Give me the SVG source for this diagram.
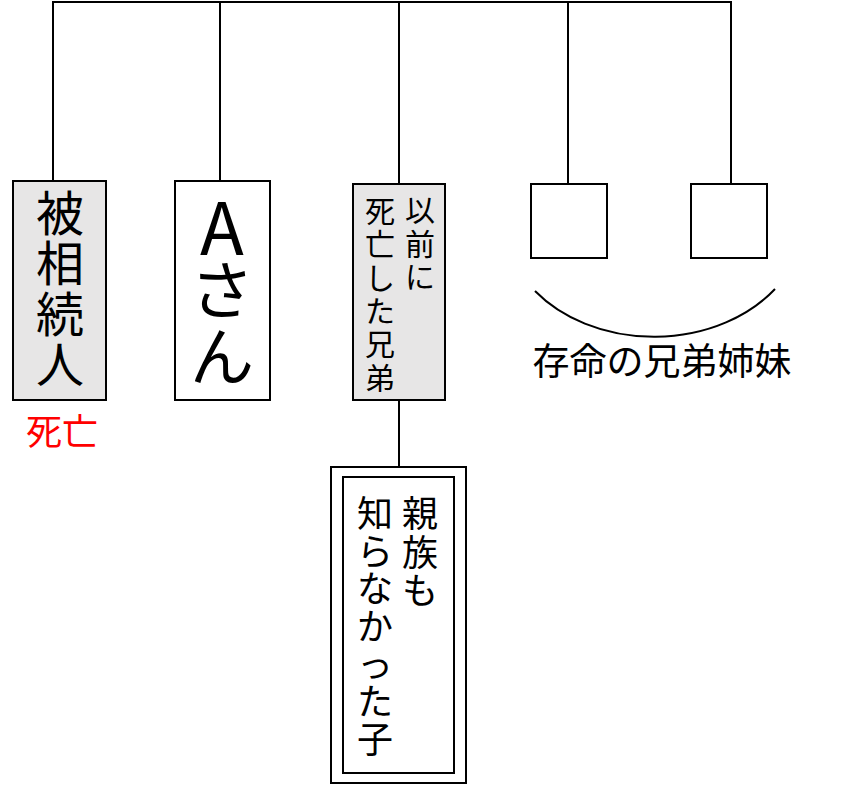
<svg xmlns="http://www.w3.org/2000/svg" width="867" height="785" viewBox="0 0 867 785">
<style>
.box{stroke:#000;stroke-width:2;}
.g{fill:#e7e6e6;}
.w{fill:#fff;}
.ln{stroke:#000;stroke-width:2;fill:none;}
.t{font-family:"Noto Sans CJK JP","Noto Sans",sans-serif;fill:#000;text-anchor:middle;}
</style>
<rect width="867" height="785" fill="#fff"/>
<g id="connectors">
<line class="ln" x1="52" y1="2" x2="732" y2="2"/>
<line class="ln" x1="53" y1="1" x2="53" y2="181"/>
<line class="ln" x1="220" y1="1" x2="220" y2="181"/>
<line class="ln" x1="399" y1="1" x2="399" y2="184"/>
<line class="ln" x1="568" y1="1" x2="568" y2="184"/>
<line class="ln" x1="731" y1="1" x2="731" y2="184"/>
<line class="ln" x1="399" y1="400" x2="399" y2="467"/>
</g>
<g id="deceased">
<rect class="box g" x="13" y="181" width="93" height="219"/>
<text class="t" font-size="48"><tspan x="60" y="231">被</tspan><tspan x="60" y="281">相</tspan><tspan x="60" y="332">続</tspan><tspan x="60" y="382">人</tspan></text>
<text class="t" font-size="36" x="62" y="445" style="fill:#ff0000">死亡</text>
</g>
<g id="a-san">
<rect class="box w" x="175" y="181" width="95" height="219"/>
<text class="t" font-size="72" x="222" y="255">A</text>
<text class="t" font-size="64"><tspan x="222" y="314">さ</tspan><tspan x="222" y="380">ん</tspan></text>
</g>
<g id="dead-sibling">
<rect class="box g" x="353" y="184" width="92" height="216"/>
<text class="t" font-size="30"><tspan x="420" y="221">以</tspan><tspan x="420" y="255">前</tspan><tspan x="420" y="288">に</tspan></text>
<text class="t" font-size="30"><tspan x="380" y="222">死</tspan><tspan x="380" y="255">亡</tspan><tspan x="380" y="289">し</tspan><tspan x="380" y="322">た</tspan><tspan x="380" y="355">兄</tspan><tspan x="380" y="389">弟</tspan></text>
</g>
<g id="unknown-child">
<rect class="box w" x="331" y="467" width="135" height="316"/>
<rect class="box w" x="343" y="477" width="111" height="296"/>
<text class="t" font-size="36"><tspan x="420" y="527">親</tspan><tspan x="420" y="566">族</tspan><tspan x="420" y="604">も</tspan></text>
<text class="t" font-size="36"><tspan x="375" y="527">知</tspan><tspan x="375" y="565">ら</tspan><tspan x="375" y="602">な</tspan><tspan x="375" y="640">か</tspan><tspan x="375" y="678">っ</tspan><tspan x="375" y="715">た</tspan><tspan x="375" y="753">子</tspan></text>
</g>
<g id="sibling1">
<rect class="box w" x="531" y="184" width="76" height="74"/>
</g>
<g id="sibling2">
<rect class="box w" x="691" y="184" width="76" height="74"/>
</g>
<g id="living-siblings">
<path class="ln" d="M535,291 A150,117 0 0,0 775,289"/>
<text class="t" font-size="37" x="662" y="375">存命の兄弟姉妹</text>
</g>
</svg>
